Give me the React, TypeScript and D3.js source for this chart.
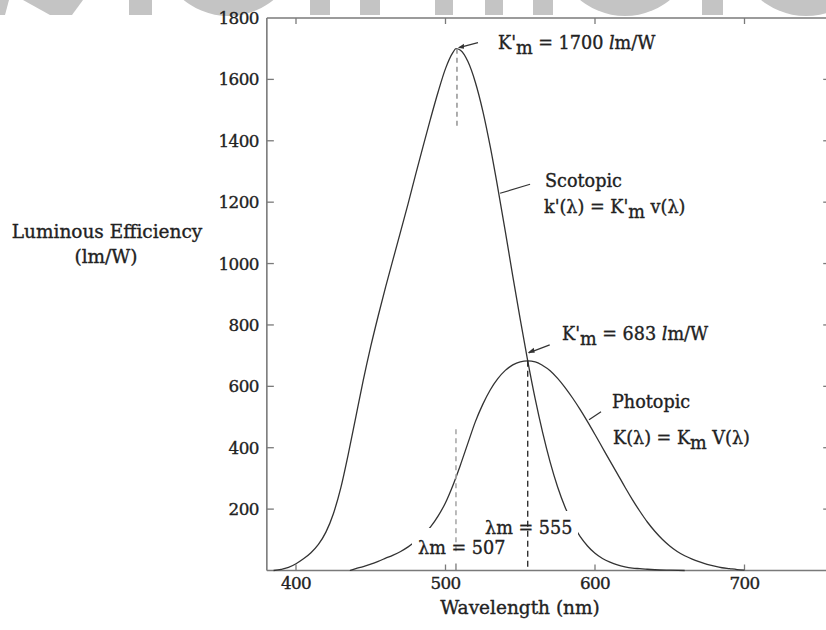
import React from "react";
import * as d3 from "d3";

// ---- data ----
const xTicks = [400, 500, 600, 700];
const yTicks = [200, 400, 600, 800, 1000, 1200, 1400, 1600, 1800];
const rightTicks = [200, 400, 600, 800, 1000, 1200, 1400, 1600];

const scotopicWl = [385, 390, 395, 400, 405, 410, 415, 420, 425, 430, 435, 440, 445, 450, 455, 460, 465, 470, 475, 480, 485, 490, 495, 500, 505, 507, 510, 515, 520, 525, 530, 535, 540, 545, 550, 555, 560, 565, 570, 575, 580, 585, 590, 595, 600, 605, 610, 615, 620, 625, 630, 635, 640, 650, 660];
const scotopicVal = [0, 4, 10, 22, 38, 58, 85, 125, 185, 270, 380, 500, 620, 730, 830, 925, 1015, 1105, 1195, 1290, 1382, 1472, 1558, 1635, 1688, 1700, 1695, 1658, 1590, 1496, 1379, 1246, 1105, 959, 818, 683, 559, 449, 353, 272, 206, 153, 111, 80, 56, 39, 27, 18, 12, 8, 6, 4, 2.5, 1, 0];

const photopicWl = [436, 440, 445, 450, 455, 460, 465, 470, 475, 480, 485, 490, 495, 500, 505, 510, 515, 520, 525, 530, 535, 540, 545, 550, 555, 560, 565, 570, 575, 580, 585, 590, 595, 600, 605, 610, 615, 620, 625, 630, 635, 640, 645, 650, 655, 660, 665, 670, 675, 680, 685, 690, 695, 700];
const photopicVal = [0, 6, 13, 21, 30, 40, 50, 62, 77, 95, 116, 142, 177, 221, 278, 344, 415, 485, 542, 589, 625, 652, 670, 680, 683, 680, 668, 651, 626, 596, 562, 525, 485, 443, 400, 357, 315, 272, 231, 193, 158, 128, 102, 80, 62, 48, 37, 28, 20, 14, 9, 6, 3, 1];

const scotopicPeak = { wl: 507, val: 1700 };
const photopicPeak = { wl: 555, val: 683 };

// watermark fragments (decoration at top edge)
const wmRects = [
  [129, 152], [310, 330], [360, 380], [435, 453], [485, 503], [533, 553], [702, 723],
];
const wmCircles = [228.5, 625, 806];

const FONT = "'DejaVu Serif', serif";
const INK = "#222";

export default function App() {
  const x = d3.scaleLinear().domain([400, 700]).range([296, 744.5]);
  const y = d3.scaleLinear().domain([0, 1800]).range([570.5, 18]);
  const xMin = 380.5, xMax = 758;
  const L = x(xMin), R = x(xMax), T = y(1800), B = y(0);

  const line = d3
    .line<[number, number]>()
    .x((d) => x(d[0]))
    .y((d) => y(d[1]))
    .curve(d3.curveMonotoneX);

  const scot = line(scotopicWl.map((w, i) => [w, scotopicVal[i]] as [number, number]))!;
  const phot = line(photopicWl.map((w, i) => [w, photopicVal[i]] as [number, number]))!;

  const sx = x(scotopicPeak.wl), sy = y(scotopicPeak.val);
  const px = x(photopicPeak.wl), py = y(photopicPeak.val);

  const axisStroke = "#7a7a7a";
  const fs = 16.8;
  const afs = 17.6;
  const textStroke = { stroke: INK, strokeWidth: 0.35 };

  return (
    <svg
      width={826}
      height={630}
      style={{ position: "absolute", left: 0, top: 0, background: "#fff" }}
    >
      {/* watermark */}
      <g fill="#c4c4c4">
        <polygon points="0,0 9,0 5,15 0,15" />
        <polygon points="23,0 83,0 72,15 50,15" />
        {wmRects.map(([a, b], i) => (
          <rect key={i} x={a} y={0} width={b - a} height={15} />
        ))}
        {wmCircles.map((c, i) => (
          <circle key={i} cx={c} cy={-55} r={71} />
        ))}
      </g>

      {/* frame */}
      <g stroke={axisStroke} fill="none" strokeWidth={1.6}>
        <line x1={L} y1={T} x2={R} y2={T} />
        <line x1={L} y1={T} x2={L} y2={B} />
        <line x1={L} y1={B} x2={R} y2={B} />
        <line x1={R} y1={T} x2={R} y2={B} />
      </g>
      {/* ticks */}
      <g stroke={axisStroke} strokeWidth={1.3}>
        {yTicks.filter((t) => t < 1800).map((t) => (
          <line key={"l" + t} x1={L} x2={L + 7} y1={y(t)} y2={y(t)} />
        ))}
        {rightTicks.map((t) => (
          <line key={"r" + t} x1={R} x2={R - 8} y1={y(t)} y2={y(t)} />
        ))}
        {xTicks.map((t) => (
          <g key={"x" + t}>
            <line x1={x(t)} x2={x(t)} y1={B} y2={B - 6} />
            <line x1={x(t)} x2={x(t)} y1={T} y2={T + 6} />
          </g>
        ))}
        <line x1={x(507)} x2={x(507)} y1={B} y2={B - 7} />
      </g>

      {/* tick labels */}
      <g fontFamily={FONT} fontSize={fs} fill={INK} {...textStroke}>
        {yTicks.map((t) => (
          <text key={t} x={L - 8} y={y(t)} dy="0.36em" textAnchor="end" letterSpacing={-0.6}>
            {t}
          </text>
        ))}
        {xTicks.map((t) => (
          <text key={t} x={x(t)} y={B + 18} textAnchor="middle" letterSpacing={-0.6}>
            {t}
          </text>
        ))}
      </g>

      {/* axis titles */}
      <g fontFamily={FONT} fontSize={18.5} fill={INK} textAnchor="middle" {...textStroke}>
        <text x={107} y={238}>Luminous Efficiency</text>
        <text x={106} y={263}>(lm/W)</text>
        <text x={520} y={614}>Wavelength (nm)</text>
      </g>

      {/* curves */}
      <g fill="none" stroke="#333" strokeWidth={1.3}>
        <path d={scot} />
        <path d={phot} />
      </g>

      {/* label backgrounds (gaps in curves) */}
      <rect x={482} y={511} width={96} height={29} fill="#fff" />
      <rect x={412} y={528} width={98} height={30} fill="#fff" />

      {/* dashed markers */}
      <line x1={sx + 1} x2={sx + 1} y1={sy} y2={y(1440)} stroke="#999" strokeWidth={1.6} strokeDasharray="5 4" />
      <line x1={sx} x2={sx} y1={y(460)} y2={553} stroke="#aaa" strokeWidth={1.6} strokeDasharray="5 4" />
      <line x1={px} x2={px} y1={py} y2={B} stroke="#222" strokeWidth={1.3} strokeDasharray="6 4" />

      {/* leaders */}
      <g stroke="#333" strokeWidth={1.2} fill="none">
        <line x1={sx + 3} y1={sy - 1} x2={sx + 22} y2={sy - 6} />
        <line x1={x(536.5)} y1={y(1229)} x2={x(536.5) + 30} y2={y(1229) - 9} />
        <line x1={px + 1} y1={py - 8} x2={px + 22} y2={py - 16} />
        <line x1={x(596)} y1={y(485) - 2} x2={x(596) + 12} y2={y(485) - 10} />
      </g>
      <g fill="#333">
        <polygon points={`${sx + 2},${sy - 1} ${sx + 8},${sy - 5} ${sx + 8},${sy}`} />
        <polygon points={`${px},${py - 8} ${px + 6},${py - 13} ${px + 7},${py - 8}`} />
      </g>

      {/* annotations */}
      <g fontFamily={FONT} fontSize={afs} fill={INK} {...textStroke}>
        <text x={498} y={49}>
          K'<tspan dy={5}>m</tspan>
          <tspan dy={-5}> = 1700 </tspan>
          <tspan fontStyle="italic">l</tspan>m/W
        </text>
        <text x={545} y={187}>Scotopic</text>
        <text x={544} y={213}>
          k'(λ) = K'<tspan dy={5}>m</tspan>
          <tspan dy={-5}> v(λ)</tspan>
        </text>
        <text x={562} y={340}>
          K'<tspan dy={5}>m</tspan>
          <tspan dy={-5}> = 683 </tspan>
          <tspan fontStyle="italic">l</tspan>m/W
        </text>
        <text x={612} y={408}>Photopic</text>
        <text x={613} y={444}>
          K(λ) = K<tspan dy={5}>m</tspan>
          <tspan dy={-5}> V(λ)</tspan>
        </text>
        <text x={485} y={534}>λm = 555</text>
        <text x={418} y={554}>λm = 507</text>
      </g>
    </svg>
  );
}
